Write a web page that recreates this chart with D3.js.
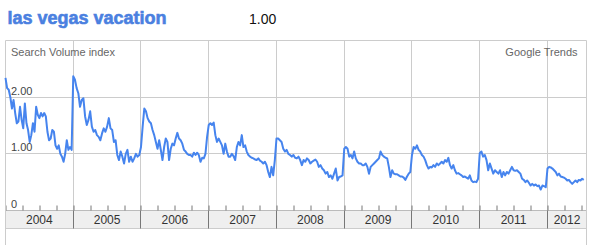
<!DOCTYPE html>
<html>
<head>
<meta charset="utf-8">
<script src="https://cdn.jsdelivr.net/npm/d3@7"></script>
<style>
  html, body { margin:0; padding:0; background:#fff; }
  svg { display:block; font-family:"Liberation Sans", Arial, sans-serif; }
  .title { font-family:Arial, "Liberation Sans", sans-serif; font-weight:bold; }
</style>
</head>
<body>
<svg id="chart" width="596" height="245"></svg>
<script>
// Header texts
const title = 'las vegas vacation';
const avgValue = '1.00';
const axisTitle = 'Search Volume index';
const sourceLabel = 'Google Trends';

// Year bands along the bottom
const years = [2004, 2005, 2006, 2007, 2008, 2009, 2010, 2011, 2012];
const yearLabels = ['2004', '2005', '2006', '2007', '2008', '2009', '2010', '2011', '2012'];
const lastDataYearSpan = 0.56;   // 2012 only runs to late July
const xEnd = 2012.576;           // right edge of the frame

// Y axis
const yTicks = [0, 1, 2];
const yTickLabels = ['0', '1.00', '2.00'];

// Search volume (roughly weekly samples per year)
const v2004 = [2.34, 2.16, 2.13, 2.0, 1.80, 1.95, 1.72, 1.54, 1.57, 1.83, 1.6, 1.45, 1.89, 1.54, 1.42, 1.21, 1.33, 1.54, 1.39, 1.83, 1.69,
               1.63, 1.72, 1.66, 1.72, 1.66, 1.39, 1.24, 1.27, 1.42, 1.39, 1.15, 1.09, 1.15, 1.0, 0.95, 0.86, 1.0, 1.24, 1.07, 1.12, 1.07];
const v2005 = [2.37, 2.31, 2.16, 2.07, 1.83, 1.95, 1.98, 1.66, 1.51, 1.6, 1.75, 1.48, 1.39, 1.42, 1.33, 1.30, 1.24, 1.36, 1.45, 1.39,
               1.48, 1.63, 1.45, 1.42, 1.21, 1.24, 0.98, 0.89, 1.04, 0.95, 0.83, 1.0, 1.07, 0.86, 0.95, 0.86, 0.92, 1.0, 0.95, 0.98];
const v2006 = [1.12, 1.48, 1.80, 1.75, 1.63, 1.57, 1.54, 1.42, 1.33, 1.21, 1.09, 1.24, 1.07, 0.89, 1.12, 1.27, 1.21, 0.89, 1.09, 1.18, 1.15,
               1.27, 1.37, 1.27, 1.24, 1.18, 1.07, 1.04, 1.0, 0.98, 0.98, 0.95, 1.02, 0.98, 1.02, 0.98, 0.86, 0.93, 0.92, 1.0, 1.30];
const v2007 = [1.51, 1.54, 1.51, 1.55, 1.33, 1.21, 1.27, 1.21, 1.15, 1.0, 1.18, 1.04, 0.95, 0.95, 1.0, 0.96, 0.89, 1.12, 1.21, 1.15, 1.33,
               1.12, 1.15, 1.04, 0.98, 0.95, 0.93, 0.92, 0.90, 0.89, 0.92, 0.88, 0.86, 0.83, 0.86, 0.80, 0.68, 0.59, 0.77, 0.62, 0.89];
const v2008 = [1.27, 1.27, 1.24, 1.21, 1.09, 1.04, 1.07, 1.0, 0.98, 0.95, 0.98, 0.93, 0.92, 0.95, 0.89, 0.80, 0.89, 0.86, 0.92, 0.89,
               0.83, 0.86, 0.88, 0.90, 0.86, 0.77, 0.80, 0.74, 0.71, 0.65, 0.68, 0.59, 0.62, 0.56, 0.65, 0.74, 0.53, 0.59, 0.60, 0.62];
const v2009 = [1.09, 1.12, 1.09, 0.95, 0.98, 0.92, 1.04, 0.92, 0.86, 0.83, 0.83, 0.80, 0.80, 0.83, 0.77, 0.65, 0.77, 0.80, 0.83, 0.86, 0.89,
               0.92, 1.04, 0.98, 0.95, 0.93, 0.92, 0.77, 0.59, 0.71, 0.65, 0.64, 0.64, 0.62, 0.60, 0.60, 0.58, 0.54, 0.60, 0.65, 0.68];
const v2010 = [0.98, 1.12, 1.09, 1.15, 1.07, 1.04, 0.98, 0.95, 0.89, 0.80, 0.74, 0.77, 0.76, 0.80, 0.77, 0.83, 0.80, 0.83, 0.86, 0.83, 0.89,
               0.86, 0.93, 0.80, 0.74, 0.80, 0.71, 0.65, 0.66, 0.64, 0.62, 0.59, 0.60, 0.58, 0.56, 0.62, 0.53, 0.50, 0.51, 0.50, 0.56];
const v2011 = [1.01, 1.04, 0.95, 0.98, 0.89, 0.71, 0.83, 0.74, 0.65, 0.71, 0.68, 0.65, 0.71, 0.59, 0.68, 0.62, 0.68, 0.65, 0.71, 0.77,
               0.71, 0.70, 0.71, 0.68, 0.65, 0.56, 0.54, 0.50, 0.53, 0.49, 0.44, 0.47, 0.44, 0.46, 0.43, 0.44, 0.37, 0.44, 0.43, 0.41];
const v2012 = [0.74, 0.77, 0.76, 0.74, 0.71, 0.68, 0.62, 0.65, 0.60, 0.59, 0.58, 0.56, 0.53, 0.54, 0.50, 0.47, 0.50, 0.53, 0.50, 0.54,
               0.53, 0.56, 0.54];

const valuesByYear = [v2004, v2005, v2006, v2007, v2008, v2009, v2010, v2011, v2012];

// Flatten into {t, v} with t = fractional year
const data = [];
valuesByYear.forEach((vals, k) => {
  const span = k === years.length - 1 ? lastDataYearSpan : 1;
  vals.forEach((v, i) => data.push({ t: years[k] + i * span / vals.length, v }));
});

const svg = d3.select('#chart');
const frameTop = 40.5, zeroY = 210.5, bandBottom = 228.5;
const x = d3.scaleLinear().domain([2004, xEnd]).range([5.5, 586.5]);
const y = d3.scaleLinear().domain([0, 3]).range([zeroY, frameTop]);
const crisp = v => Math.floor(v) + 0.5;

// Horizontal gridlines + top border
svg.append('g').selectAll('line')
  .data([1, 2, 3])
  .join('line')
  .attr('x1', x(2004)).attr('x2', x(xEnd))
  .attr('y1', d => crisp(y(d))).attr('y2', d => crisp(y(d)))
  .attr('stroke', '#cccccc');

// Year gridlines in the plot
svg.append('g').selectAll('line')
  .data(years.slice(1))
  .join('line')
  .attr('x1', d => crisp(x(d))).attr('x2', d => crisp(x(d)))
  .attr('y1', frameTop).attr('y2', zeroY)
  .attr('stroke', '#cccccc');

// Year band
svg.append('rect')
  .attr('x', x(2004)).attr('y', zeroY)
  .attr('width', x(xEnd) - x(2004)).attr('height', bandBottom - zeroY)
  .attr('fill', '#efefef');
svg.append('line').attr('x1', x(2004)).attr('x2', x(xEnd)).attr('y1', zeroY).attr('y2', zeroY).attr('stroke', '#bbbbbb');
svg.append('line').attr('x1', x(2004)).attr('x2', x(xEnd)).attr('y1', bandBottom).attr('y2', bandBottom).attr('stroke', '#cccccc');

svg.append('g').selectAll('line')
  .data(years.slice(1))
  .join('line')
  .attr('x1', d => crisp(x(d))).attr('x2', d => crisp(x(d)))
  .attr('y1', zeroY).attr('y2', bandBottom)
  .attr('stroke', '#777777');

svg.append('g').selectAll('text')
  .data(years)
  .join('text')
  .attr('x', d => (x(d) + x(Math.min(d + 1, xEnd))) / 2)
  .attr('y', 224)
  .attr('text-anchor', 'middle')
  .attr('font-size', 12)
  .attr('fill', '#333')
  .text((d, i) => yearLabels[i]);

// Quarter ticks sitting on the zero line
const quarters = d3.range(2004, xEnd, 0.25);
const tickAxis = svg.append('g')
  .attr('transform', `translate(0,${zeroY})`)
  .call(d3.axisTop(x).tickValues(quarters).tickSize(5).tickFormat(''));
tickAxis.select('.domain').remove();
tickAxis.selectAll('.tick line').attr('stroke', '#777').attr('transform', d => `translate(${crisp(x(d)) - x(d)},0)`);

// Left / right frame
svg.append('g').selectAll('line')
  .data([2004, xEnd])
  .join('line')
  .attr('x1', d => crisp(x(d))).attr('x2', d => crisp(x(d)))
  .attr('y1', frameTop).attr('y2', 245)
  .attr('stroke', '#cccccc');

// Y labels
svg.append('g').selectAll('text')
  .data(yTicks)
  .join('text')
  .attr('x', 11)
  .attr('y', d => y(d) - 2.5)
  .attr('font-size', 11)
  .attr('fill', '#444')
  .text((d, i) => yTickLabels[i]);

svg.append('text').attr('x', 11).attr('y', 56).attr('font-size', 11).attr('fill', '#666').text(axisTitle);
svg.append('text').attr('x', 577.5).attr('y', 56).attr('font-size', 11).attr('fill', '#666')
  .attr('text-anchor', 'end').text(sourceLabel);

// Header (a thin stroke in the fill colour gives the heavy look of the original)
svg.append('text').attr('class', 'title').attr('x', 7.5).attr('y', 24).attr('font-size', 18)
  .attr('fill', '#4a80e0').attr('stroke', '#4a80e0').attr('stroke-width', 0.6)
  .text(title);
svg.append('text').attr('x', 249).attr('y', 24).attr('font-size', 14).attr('fill', '#111').text(avgValue);

// The trend line
const line = d3.line().x(d => x(d.t)).y(d => y(d.v));
svg.append('path')
  .datum(data)
  .attr('d', line)
  .attr('fill', 'none')
  .attr('stroke', '#4684ee')
  .attr('stroke-width', 2)
  .attr('stroke-linejoin', 'round');
</script>
</body>
</html>
